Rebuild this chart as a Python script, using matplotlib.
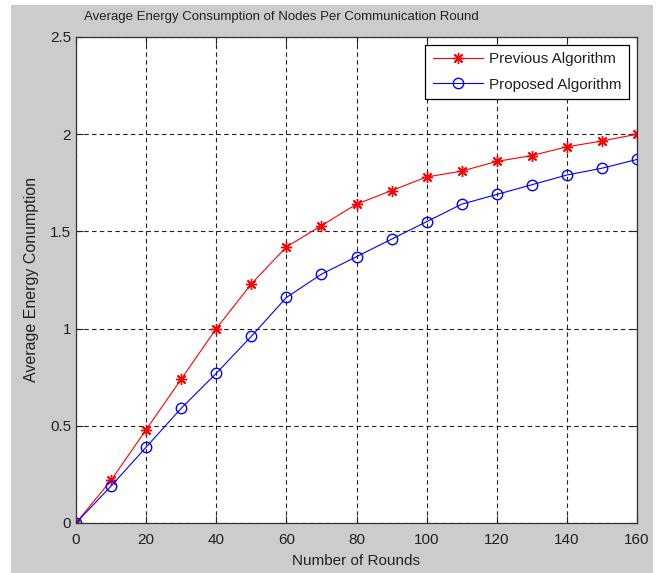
import matplotlib.pyplot as plt
from matplotlib.patches import Rectangle

rounds = [0, 10, 20, 30, 40, 50, 60, 70, 80, 90, 100, 110, 120, 130, 140, 150, 160]
previous = [0, 0.22, 0.48, 0.74, 1.0, 1.23, 1.42, 1.53, 1.64, 1.71, 1.78, 1.81, 1.86, 1.89, 1.935, 1.965, 2.0]
proposed = [0, 0.19, 0.39, 0.59, 0.77, 0.96, 1.16, 1.28, 1.37, 1.46, 1.55, 1.64, 1.69, 1.74, 1.79, 1.825, 1.87]

plt.rcParams['font.family'] = ['Liberation Sans', 'DejaVu Sans']
plt.rcParams['font.size'] = 11

fig = plt.figure(figsize=(6.58, 5.73), dpi=100, facecolor='white')
# matlab gray figure area
fig.patches.append(Rectangle((11 / 658, 0), 642 / 658, 568 / 573, transform=fig.transFigure,
                             facecolor='#cccccc', edgecolor='none', zorder=-5))

ax = fig.add_axes([76 / 658, 50 / 573, 561 / 658, 486 / 573])
ax.set_zorder(2)
ax.set_facecolor('white')

ax.plot(rounds, previous, color='red', marker=(8, 2, 0), markersize=8, markeredgewidth=1,
        linewidth=0.8, label='Previous Algorithm')
ax.plot(rounds, proposed, color='blue', marker='o', markersize=7.5, markerfacecolor='none',
        markeredgewidth=1, linewidth=0.8, label='Proposed Algorithm')

ax.set_xlim(0, 160)
ax.set_ylim(0, 2.5)
ax.set_xticks(range(0, 161, 20))
ax.set_yticks([0, 0.5, 1, 1.5, 2, 2.5])
ax.set_yticklabels(['0', '0.5', '1', '1.5', '2', '2.5'])
ax.grid(True, color='#222222', linestyle=(0, (4, 3)), linewidth=0.8)
ax.tick_params(direction='in', top=True, right=True, length=5, colors='#222222', labelsize=11)
ax.tick_params(axis='x', pad=7)
for s in ax.spines.values():
    s.set_color('#333333')
    s.set_linewidth(0.9)

fig.text(281.5 / 658, 1 - 17 / 573, 'Average Energy Consumption of Nodes Per Communication Round',
         fontsize=9.5, ha='center', va='center', color='#222222')
ax.set_xlabel('Number of Rounds', fontsize=11, labelpad=5, color='#222222')
ax.set_ylabel('Average Energy Conumption', fontsize=11.5, labelpad=8, color='#222222')

leg = ax.legend(loc='upper right', fancybox=False, framealpha=1, edgecolor='black',
                fontsize=11, handlelength=3.3, handletextpad=0.4, labelspacing=0.75,
                borderpad=0.5, borderaxespad=0.5)
leg.get_frame().set_linewidth(0.9)
for t in leg.get_texts():
    t.set_color('#222222')

fig.savefig('out.png', dpi=100, facecolor=fig.get_facecolor())
